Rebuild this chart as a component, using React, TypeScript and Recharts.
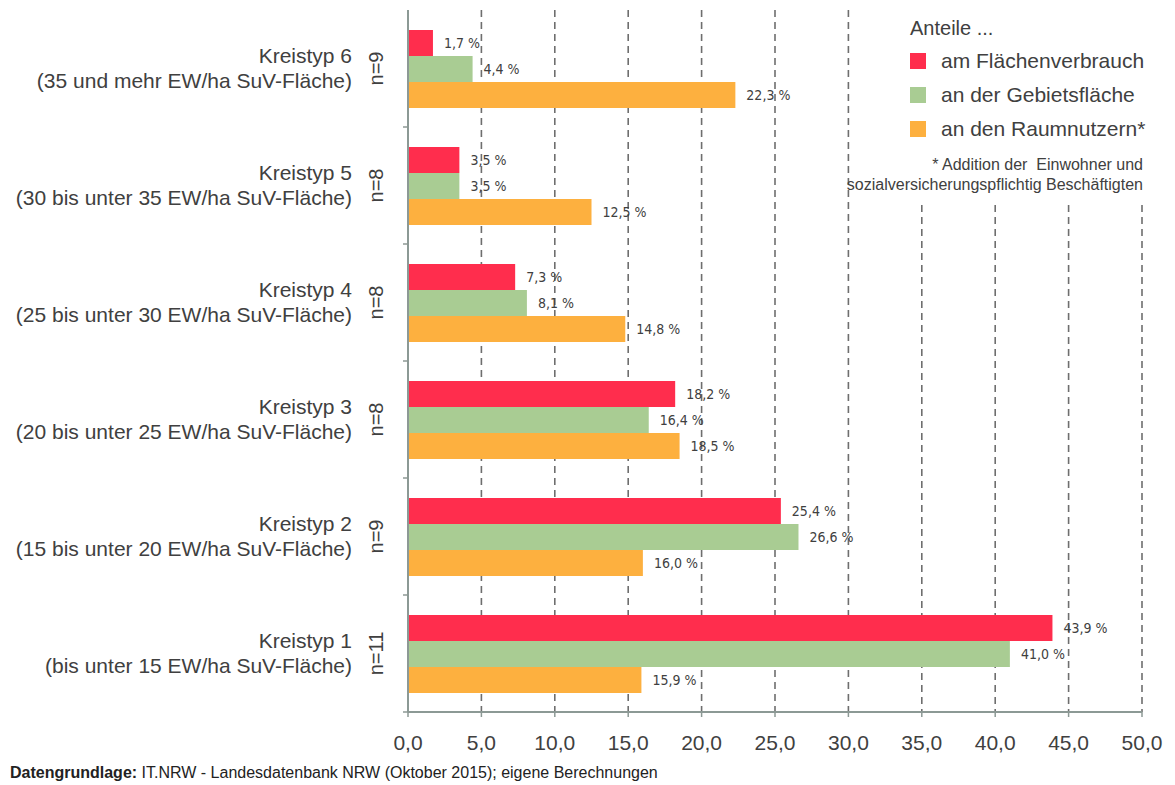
import { BarChart, Bar, XAxis, YAxis, CartesianGrid, LabelList } from "recharts";

const categories = ["Kreistyp 6", "Kreistyp 5", "Kreistyp 4", "Kreistyp 3", "Kreistyp 2", "Kreistyp 1"];
const subtitles = [
  "(35 und mehr EW/ha SuV-Fläche)",
  "(30 bis unter 35 EW/ha SuV-Fläche)",
  "(25 bis unter 30 EW/ha SuV-Fläche)",
  "(20 bis unter 25 EW/ha SuV-Fläche)",
  "(15 bis unter 20 EW/ha SuV-Fläche)",
  "(bis unter 15 EW/ha SuV-Fläche)",
];
const counts = ["n=9", "n=8", "n=8", "n=8", "n=9", "n=11"];

const flaechenverbrauch = [1.7, 3.5, 7.3, 18.2, 25.4, 43.9];
const gebietsflaeche = [4.4, 3.5, 8.1, 16.4, 26.6, 41.0];
const raumnutzer = [22.3, 12.5, 14.8, 18.5, 16.0, 15.9];

const seriesNames = ["am Flächenverbrauch", "an der Gebietsfläche", "an den Raumnutzern*"];
const seriesColors = ["#ff2d4d", "#a9cc93", "#fdb03f"];
const xTicks = [0, 5, 10, 15, 20, 25, 30, 35, 40, 45, 50];

const data = categories.map((name, i) => ({
  name,
  sub: subtitles[i],
  n: counts[i],
  verbrauch: flaechenverbrauch[i],
  gebiet: gebietsflaeche[i],
  raum: raumnutzer[i],
}));

const fmt = (v: number) => v.toFixed(1).replace(".", ",");
const textColor = "#404040";
const axisColor = "#8c9995";
const font = "Liberation Sans, Arial, sans-serif";
const BAND_HALF = 58.5;
// legend box area: grid lines right of it start below the note
const LEGEND_LEFT = 855;
const LEGEND_BOTTOM = 205;

function CategoryTick(props: any) {
  const { x, y, payload, index } = props;
  const row = data[index] ?? data.find((d) => d.name === payload.value);
  return (
    <g>
      <text x={x - 56} y={y - 6} textAnchor="end" fontSize={21} fill={textColor} fontFamily={font}>
        {payload.value}
      </text>
      <text x={x - 56} y={y + 19} textAnchor="end" fontSize={21} fill={textColor} fontFamily={font}>
        {row?.sub}
      </text>
      <text
        x={x - 32}
        y={y}
        textAnchor="middle"
        fontSize={20}
        fill={textColor}
        fontFamily={font}
        transform={`rotate(-90 ${x - 32} ${y})`}
        dy={7}
      >
        {row?.n}
      </text>
      <line x1={x - 5} x2={x} y1={y + BAND_HALF} y2={y + BAND_HALF} stroke={axisColor} strokeWidth={1.5} />
    </g>
  );
}

function ValueTick(props: any) {
  const { x, y, payload } = props;
  return (
    <text x={x} y={y} dy={31} textAnchor="middle" fontSize={21} fill={textColor} fontFamily={font}>
      {fmt(payload.value)}
    </text>
  );
}

function GridLine(p: any) {
  const top = p.x1 > LEGEND_LEFT ? LEGEND_BOTTOM : p.y1;
  return (
    <line
      key={p.key ?? `g-${p.index}`}
      x1={p.x1}
      x2={p.x2}
      y1={top}
      y2={p.y2}
      stroke="#6e6e6e"
      strokeWidth={1.6}
      strokeDasharray="7 5"
    />
  );
}

function LegendBox() {
  return (
    <div style={{ position: "absolute", left: LEGEND_LEFT, top: 0, width: 320, height: 203, fontFamily: font, color: textColor, zIndex: 10 }}>
      <div style={{ position: "absolute", left: 55, top: 17, fontSize: 20 }}>Anteile ...</div>
      {seriesNames.map((name, i) => (
        <div key={name} style={{ position: "absolute", left: 55, top: 49 + i * 34, display: "flex", alignItems: "center", fontSize: 21, whiteSpace: "nowrap" }}>
          <span style={{ display: "inline-block", width: 16, height: 16, background: seriesColors[i], marginRight: 15 }} />
          {name}
        </div>
      ))}
      <div style={{ position: "absolute", right: 32, top: 155, fontSize: 16, textAlign: "right", lineHeight: "20px", whiteSpace: "nowrap" }}>
        * Addition der&nbsp; Einwohner und
        <br />
        sozialversicherungspflichtig Beschäftigten
      </div>
    </div>
  );
}

const labelStyle = { fontSize: 14, fill: textColor, fontFamily: "Liberation Sans Narrow, DejaVu Sans Condensed, sans-serif" };

export default function App() {
  return (
    <div style={{ position: "absolute", left: 0, top: 0, width: 1175, height: 785, background: "#fff" }}>
      <BarChart
        width={1175}
        height={785}
        data={data}
        layout="vertical"
        margin={{ top: 10, right: 33, bottom: 33, left: 0 }}
        barCategoryGap={20}
        barGap={0}
      >
        <CartesianGrid horizontal={false} vertical={GridLine} />
        <XAxis
          type="number"
          domain={[0, 50]}
          ticks={xTicks}
          height={40}
          tick={<ValueTick />}
          tickSize={5}
          axisLine={{ stroke: axisColor, strokeWidth: 2 }}
          tickLine={{ stroke: axisColor, strokeWidth: 1.5 }}
          interval={0}
        />
        <YAxis
          type="category"
          dataKey="name"
          width={408}
          tickSize={0}
          tickMargin={0}
          tick={<CategoryTick />}
          axisLine={{ stroke: axisColor, strokeWidth: 2 }}
          tickLine={false}
          interval={0}
        />
        <Bar dataKey="verbrauch" name={seriesNames[0]} fill={seriesColors[0]} isAnimationActive={false}>
          <LabelList dataKey="verbrauch" position="right" offset={11} formatter={(v: any) => `${fmt(Number(v))} %`} style={labelStyle} />
        </Bar>
        <Bar dataKey="gebiet" name={seriesNames[1]} fill={seriesColors[1]} isAnimationActive={false}>
          <LabelList dataKey="gebiet" position="right" offset={11} formatter={(v: any) => `${fmt(Number(v))} %`} style={labelStyle} />
        </Bar>
        <Bar dataKey="raum" name={seriesNames[2]} fill={seriesColors[2]} isAnimationActive={false}>
          <LabelList dataKey="raum" position="right" offset={11} formatter={(v: any) => `${fmt(Number(v))} %`} style={labelStyle} />
        </Bar>
      </BarChart>
      <LegendBox />
      <div style={{ position: "absolute", left: 10, top: 764, fontSize: 16, color: "#222", fontFamily: font, whiteSpace: "nowrap" }}>
        <b>Datengrundlage:</b> IT.NRW - Landesdatenbank NRW (Oktober 2015); eigene Berechnungen
      </div>
    </div>
  );
}
